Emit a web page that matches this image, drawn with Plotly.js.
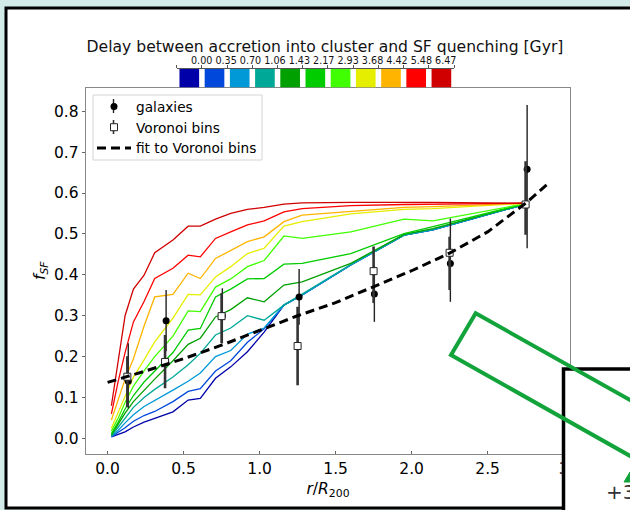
<!DOCTYPE html>
<html>
<head>
<meta charset="utf-8">
<script src="https://cdn.plot.ly/plotly-3.0.1.min.js"></script>
<style>
  html, body { margin: 0; padding: 0; background: #d3ebe8; }
  #chart { width: 630px; height: 510px; }
</style>
</head>
<body>
<div id="chart"></div>
<script>
// Delay values (Gyr) labelling each model curve
const delayLabels = ['0.00', '0.35', '0.70', '1.06', '1.43', '2.17', '2.93', '3.68', '4.42', '5.48', '6.47'];
const delayColors = ['#0000a8', '#0048dc', '#0099d8', '#00a898', '#00a000', '#00cc00', '#40ff00', '#e6ee00', '#ffb400', '#ff0000', '#d00000'];

// Radial grid of the model curves (r / R200)
const modelR = [0.025, 0.07, 0.115, 0.17, 0.24, 0.31, 0.43, 0.53, 0.61, 0.71, 0.81, 0.92, 1.03, 1.16, 1.28, 1.6, 1.95, 2.14, 2.75];

// Predicted star-forming fraction for each delay
const model000 = [0.004, 0.010, 0.016, 0.028, 0.040, 0.049, 0.065, 0.094, 0.098, 0.147, 0.175, 0.212, 0.260, 0.326, 0.351, 0.424, 0.497, 0.510, 0.573];
const model035 = [0.004, 0.014, 0.026, 0.042, 0.056, 0.066, 0.090, 0.115, 0.122, 0.165, 0.190, 0.235, 0.268, 0.326, 0.351, 0.424, 0.497, 0.510, 0.573];
const model070 = [0.005, 0.020, 0.038, 0.058, 0.078, 0.092, 0.118, 0.140, 0.160, 0.200, 0.215, 0.255, 0.270, 0.326, 0.351, 0.424, 0.497, 0.510, 0.573];
const model106 = [0.006, 0.028, 0.052, 0.076, 0.100, 0.120, 0.150, 0.180, 0.208, 0.253, 0.270, 0.300, 0.289, 0.326, 0.353, 0.425, 0.497, 0.511, 0.573];
const model143 = [0.008, 0.034, 0.062, 0.090, 0.118, 0.145, 0.190, 0.230, 0.245, 0.297, 0.315, 0.344, 0.334, 0.375, 0.383, 0.428, 0.499, 0.513, 0.574];
const model217 = [0.012, 0.040, 0.072, 0.105, 0.138, 0.165, 0.210, 0.265, 0.269, 0.346, 0.365, 0.390, 0.391, 0.426, 0.428, 0.452, 0.501, 0.518, 0.574];
const model293 = [0.018, 0.050, 0.088, 0.128, 0.165, 0.200, 0.250, 0.312, 0.310, 0.370, 0.390, 0.420, 0.435, 0.495, 0.489, 0.505, 0.536, 0.532, 0.574];
const model368 = [0.025, 0.065, 0.105, 0.150, 0.192, 0.236, 0.294, 0.352, 0.351, 0.395, 0.420, 0.452, 0.465, 0.519, 0.530, 0.549, 0.560, 0.562, 0.575];
const model442 = [0.045, 0.095, 0.145, 0.195, 0.275, 0.346, 0.352, 0.404, 0.391, 0.440, 0.460, 0.481, 0.493, 0.530, 0.546, 0.555, 0.565, 0.567, 0.575];
const model548 = [0.060, 0.140, 0.210, 0.285, 0.335, 0.391, 0.416, 0.448, 0.444, 0.489, 0.505, 0.522, 0.532, 0.554, 0.562, 0.569, 0.572, 0.573, 0.575];
const model647 = [0.080, 0.192, 0.300, 0.365, 0.399, 0.454, 0.485, 0.519, 0.519, 0.536, 0.550, 0.560, 0.565, 0.573, 0.576, 0.577, 0.577, 0.577, 0.575];
const modelCurves = [model000, model035, model070, model106, model143, model217, model293, model368, model442, model548, model647];

// Observed galaxies
const galR = [0.136, 0.385, 0.755, 1.26, 1.755, 2.255, 2.76];
const galF = [0.140, 0.288, 0.300, 0.346, 0.353, 0.428, 0.658];
const galErrUp = [0.093, 0.075, 0.067, 0.068, 0.068, 0.110, 0.157];
const galErrDown = [0.066, 0.075, 0.067, 0.068, 0.068, 0.094, 0.193];

// Voronoi-binned fractions
const vorR = [0.13, 0.378, 0.75, 1.25, 1.75, 2.25, 2.75];
const vorF = [0.151, 0.187, 0.299, 0.226, 0.409, 0.454, 0.572];
const vorErrUp = [0.050, 0.066, 0.056, 0.096, 0.060, 0.039, 0.106];
const vorErrDown = [0.074, 0.064, 0.066, 0.096, 0.078, 0.091, 0.074];

// Fit to the Voronoi bins
const fitR = [0.0, 0.25, 0.5, 0.75, 1.0, 1.25, 1.5, 1.75, 2.0, 2.25, 2.5, 2.75, 2.9];
const fitF = [0.137, 0.165, 0.195, 0.228, 0.264, 0.300, 0.332, 0.370, 0.410, 0.453, 0.505, 0.575, 0.624];

const traces = [];
modelCurves.forEach((curve, i) => {
  traces.push({
    type: 'scatter', mode: 'lines', x: modelR, y: curve,
    line: { color: delayColors[i], width: 1.3 },
    showlegend: false, hoverinfo: 'skip'
  });
});

traces.push({
  type: 'scatter', mode: 'markers', name: 'galaxies', x: galR, y: galF,
  marker: { color: 'black', size: 7, symbol: 'circle' },
  error_y: { type: 'data', symmetric: false, array: galErrUp, arrayminus: galErrDown, thickness: 1.4, width: 0, color: '#222' }
});
traces.push({
  type: 'scatter', mode: 'markers', name: 'Voronoi bins', x: vorR, y: vorF,
  marker: { color: 'white', size: 7, symbol: 'square', line: { color: '#222', width: 1 } },
  error_y: { type: 'data', symmetric: false, array: vorErrUp, arrayminus: vorErrDown, thickness: 2.6, width: 0, color: '#333' }
});
traces.push({
  type: 'scatter', mode: 'lines', name: 'fit to Voronoi bins', x: fitR, y: fitF,
  line: { color: 'black', width: 3, dash: '9px,5px' }
});

// Colour key for the delay values
traces.push({
  type: 'bar', x: delayLabels.map((_, i) => i), y: delayLabels.map(() => 1),
  xaxis: 'x2', yaxis: 'y2', width: 0.78,
  marker: { color: delayColors, line: { width: 0 } },
  showlegend: false, hoverinfo: 'skip'
});

const W = 630, H = 510;
const px = v => v / W;
const py = v => 1 - v / H;

// legend frame and the error-bar strokes behind its markers
const legendBox = { x0: 93, x1: 262, y0: 95, y1: 160 };
const legendRows = [106, 127];

const layout = {
  width: W, height: H,
  margin: { l: 0, r: 0, t: 0, b: 0 },
  paper_bgcolor: '#d3ebe8',
  plot_bgcolor: 'rgba(0,0,0,0)',
  font: { family: 'DejaVu Sans, sans-serif', color: 'black', size: 15.5 },
  title: {
    text: 'Delay between accretion into cluster and SF quenching [Gyr]',
    font: { size: 15.6, color: '#111' },
    x: px(325), xanchor: 'center', xref: 'paper',
    y: py(47), yanchor: 'middle', yref: 'paper'
  },
  showlegend: true,
  legend: {
    x: px(92), y: py(91), xanchor: 'left', yanchor: 'top',
    bgcolor: 'rgba(0,0,0,0)', borderwidth: 0,
    font: { size: 13.7 }, tracegroupgap: 0, itemwidth: 34
  },
  xaxis: {
    domain: [px(85.7), px(570.3)], range: [-0.144, 3.044],
    tickvals: [0, 0.5, 1, 1.5, 2, 2.5, 3], ticktext: ['0.0', '0.5', '1.0', '1.5', '2.0', '2.5', '3'],
    ticks: 'inside', ticklen: 3, tickcolor: '#666',
    showline: true, linecolor: '#888', linewidth: 1, mirror: true,
    showgrid: false, zeroline: false,
    title: { text: '<i>r</i>/<i>R</i><sub>200</sub>', font: { size: 15.5 }, standoff: 6 }
  },
  yaxis: {
    domain: [py(454), py(87.5)], range: [-0.038, 0.858],
    tickvals: [0, 0.1, 0.2, 0.3, 0.4, 0.5, 0.6, 0.7, 0.8], tickformat: '.1f',
    ticks: 'outside', ticklen: 3, tickcolor: '#666',
    showline: true, linecolor: '#888', linewidth: 1, mirror: true,
    showgrid: false, zeroline: false,
    title: { text: '<i>f</i><sub><i>SF</i></sub>', font: { size: 15.5 }, standoff: 4 }
  },
  xaxis2: {
    domain: [px(176.7), px(454)], range: [-0.5, 10.5], anchor: 'y2', side: 'top',
    showline: true, linecolor: '#555', linewidth: 1,
    tickvals: [-0.5, 0.5, 1.5, 2.5, 3.5, 4.5, 5.5, 6.5, 7.5, 8.5, 9.5, 10.5],
    ticks: 'outside', ticklen: 3, tickcolor: '#555', showticklabels: false,
    showgrid: false, zeroline: false, fixedrange: true
  },
  yaxis2: {
    domain: [py(87.5), py(69)], range: [0, 1], anchor: 'x2',
    visible: false, fixedrange: true
  },
  annotations: [
    {
      text: delayLabels.join(' '), xref: 'paper', yref: 'paper',
      x: px(323), y: py(60), xanchor: 'center', yanchor: 'middle',
      showarrow: false, font: { size: 9.6, color: '#111' }
    },
    {
      text: '+3', xref: 'paper', yref: 'paper', x: px(604), y: py(492),
      xanchor: 'left', yanchor: 'middle', showarrow: false,
      font: { size: 20, color: '#333' }
    }
  ],
  shapes: [
    // main white panel
    { type: 'rect', xref: 'paper', yref: 'paper', layer: 'below',
      x0: px(6), x1: px(700), y0: py(8), y1: py(508),
      fillcolor: 'white', line: { color: 'black', width: 3 } },
    // legend frame
    { type: 'rect', xref: 'paper', yref: 'paper', layer: 'above',
      x0: px(legendBox.x0), x1: px(legendBox.x1), y0: py(legendBox.y0), y1: py(legendBox.y1),
      fillcolor: 'white', line: { color: '#d4d4d4', width: 1 } },
    // error-bar strokes in the legend
    { type: 'line', xref: 'paper', yref: 'paper', layer: 'above',
      x0: px(113.5), x1: px(113.5), y0: py(legendRows[0] - 7), y1: py(legendRows[0] + 7),
      line: { color: '#222', width: 1.4 } },
    { type: 'line', xref: 'paper', yref: 'paper', layer: 'above',
      x0: px(113.5), x1: px(113.5), y0: py(legendRows[1] - 7), y1: py(legendRows[1] + 7),
      line: { color: '#333', width: 1.6 } },
    // overlapping panel at lower right
    { type: 'rect', xref: 'paper', yref: 'paper', layer: 'above',
      x0: px(563.5), x1: px(700), y0: py(369), y1: py(560),
      fillcolor: 'white', line: { color: 'black', width: 3.5 } },
    // tilted green frame
    { type: 'path', xref: 'paper', yref: 'paper', layer: 'above',
      path: `M ${px(475.7)},${py(313.3)} L ${px(760)},${py(473)} L ${px(735)},${py(515)} L ${px(451)},${py(355)} Z`,
      fillcolor: 'rgba(0,0,0,0)', line: { color: '#12a33a', width: 4 } },
    { type: 'path', xref: 'paper', yref: 'paper', layer: 'above',
      path: `M ${px(624)},${py(482)} L ${px(630)},${py(472)} L ${px(630)},${py(482)} Z`,
      fillcolor: '#12a33a', line: { color: '#12a33a', width: 1 } }
  ]
};

Plotly.newPlot('chart', traces, layout, { displayModeBar: false, staticPlot: true });
</script>
</body>
</html>
